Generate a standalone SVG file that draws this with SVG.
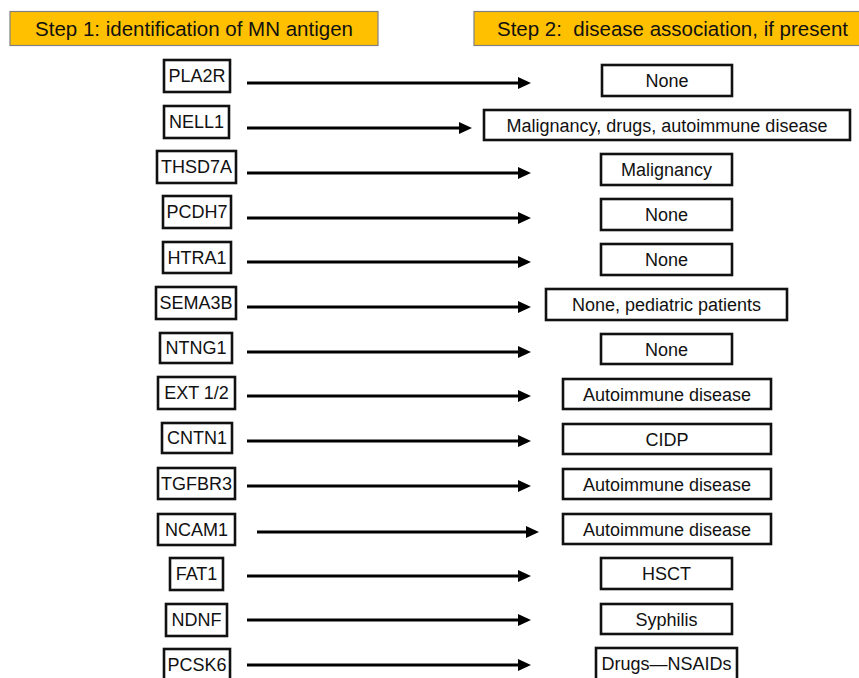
<svg xmlns="http://www.w3.org/2000/svg" width="859" height="678" viewBox="0 0 859 678">
<style>
.hdr{fill:#FFC000;stroke:#808080;stroke-width:1.2}
.ht{font-family:"Liberation Sans",Arial,sans-serif;font-size:20.5px;fill:#111;white-space:pre}
.box{fill:#fff;stroke:#111;stroke-width:2.6}
.t{font-family:"Liberation Sans",Arial,sans-serif;font-size:18px;fill:#111;text-anchor:middle}
.ar{stroke:#000;stroke-width:3.2;fill:none;marker-end:url(#ah)}
</style>
<defs>
<marker id="ah" markerUnits="userSpaceOnUse" markerWidth="14" markerHeight="12" refX="2" refY="6" orient="auto">
<path d="M0,0 L13,6 L0,12 z" fill="#000"/>
</marker>
</defs>
<rect width="859" height="678" fill="#fff"/>
<g id="header1"><rect class="hdr" x="10" y="11.5" width="368" height="34"/><text class="ht" x="194" y="35.5" text-anchor="middle">Step 1: identification of MN antigen</text></g>
<g id="header2"><rect class="hdr" x="474" y="11.5" width="390" height="34"/><text class="ht" x="497" y="35.5">Step 2:  disease association, if present</text></g>

<g id="antigens">
<g id="n-pla2r"><rect class="box" x="164" y="60" width="66" height="32"/><text class="t" x="197" y="82">PLA2R</text></g>
<g id="n-nell1"><rect class="box" x="164" y="106" width="65" height="32"/><text class="t" x="196.5" y="128">NELL1</text></g>
<g id="n-thsd7a"><rect class="box" x="157" y="151" width="79" height="32"/><text class="t" x="196.5" y="173">THSD7A</text></g>
<g id="n-pcdh7"><rect class="box" x="163" y="196" width="68" height="32"/><text class="t" x="197" y="218">PCDH7</text></g>
<g id="n-htra1"><rect class="box" x="163" y="242" width="68" height="31"/><text class="t" x="197" y="263.5">HTRA1</text></g>
<g id="n-sema3b"><rect class="box" x="156" y="287" width="80" height="32"/><text class="t" x="196" y="309">SEMA3B</text></g>
<g id="n-ntng1"><rect class="box" x="160" y="333" width="72" height="30"/><text class="t" x="196" y="354">NTNG1</text></g>
<g id="n-ext"><rect class="box" x="158" y="377" width="77" height="32"/><text class="t" x="196.5" y="399">EXT 1/2</text></g>
<g id="n-cntn1"><rect class="box" x="162" y="423" width="70" height="30"/><text class="t" x="197" y="444">CNTN1</text></g>
<g id="n-tgfbr3"><rect class="box" x="158" y="468" width="77" height="31"/><text class="t" x="196.5" y="489.5">TGFBR3</text></g>
<g id="n-ncam1"><rect class="box" x="158" y="514" width="77" height="31"/><text class="t" x="196.5" y="535.5">NCAM1</text></g>
<g id="n-fat1"><rect class="box" x="170" y="558" width="53" height="32"/><text class="t" x="196.5" y="580">FAT1</text></g>
<g id="n-ndnf"><rect class="box" x="166" y="604" width="61" height="32"/><text class="t" x="196.5" y="626">NDNF</text></g>
<g id="n-pcsk6"><rect class="box" x="164" y="649" width="66" height="34"/><text class="t" x="197" y="671">PCSK6</text></g>
</g>

<g id="connectors">
<line class="ar" x1="247" y1="83" x2="520" y2="83"/>
<line class="ar" x1="247" y1="128" x2="461" y2="128"/>
<line class="ar" x1="247" y1="173" x2="520" y2="173"/>
<line class="ar" x1="247" y1="218" x2="520" y2="218"/>
<line class="ar" x1="247" y1="262" x2="520" y2="262"/>
<line class="ar" x1="247" y1="307" x2="520" y2="307"/>
<line class="ar" x1="247" y1="352" x2="520" y2="352"/>
<line class="ar" x1="247" y1="396" x2="520" y2="396"/>
<line class="ar" x1="247" y1="441" x2="520" y2="441"/>
<line class="ar" x1="247" y1="486" x2="520" y2="486"/>
<line class="ar" x1="257" y1="532" x2="528" y2="532"/>
<line class="ar" x1="247" y1="576" x2="520" y2="576"/>
<line class="ar" x1="247" y1="620" x2="520" y2="620"/>
<line class="ar" x1="247" y1="665" x2="520" y2="665"/>
</g>

<g id="diseases">
<g id="d-1"><rect class="box" x="602" y="65" width="130" height="31"/><text class="t" x="667" y="87">None</text></g>
<g id="d-2"><rect class="box" x="484" y="110" width="366" height="30"/><text class="t" x="667" y="131.5">Malignancy, drugs, autoimmune disease</text></g>
<g id="d-3"><rect class="box" x="601" y="154" width="131" height="31"/><text class="t" x="666.5" y="176">Malignancy</text></g>
<g id="d-4"><rect class="box" x="601" y="199" width="131" height="31"/><text class="t" x="666.5" y="221">None</text></g>
<g id="d-5"><rect class="box" x="601" y="244" width="131" height="31"/><text class="t" x="666.5" y="266">None</text></g>
<g id="d-6"><rect class="box" x="546" y="289" width="241" height="31"/><text class="t" x="666.5" y="311">None, pediatric patients</text></g>
<g id="d-7"><rect class="box" x="601" y="334" width="131" height="30"/><text class="t" x="666.5" y="355.5">None</text></g>
<g id="d-8"><rect class="box" x="563" y="379" width="208" height="30"/><text class="t" x="667" y="400.5">Autoimmune disease</text></g>
<g id="d-9"><rect class="box" x="563" y="424" width="208" height="30"/><text class="t" x="667" y="445.5">CIDP</text></g>
<g id="d-10"><rect class="box" x="563" y="469" width="208" height="30"/><text class="t" x="667" y="490.5">Autoimmune disease</text></g>
<g id="d-11"><rect class="box" x="563" y="514" width="208" height="30"/><text class="t" x="667" y="535.5">Autoimmune disease</text></g>
<g id="d-12"><rect class="box" x="601" y="558" width="131" height="31"/><text class="t" x="666.5" y="580">HSCT</text></g>
<g id="d-13"><rect class="box" x="601" y="604" width="131" height="30"/><text class="t" x="666.5" y="625.5">Syphilis</text></g>
<g id="d-14"><rect class="box" x="596" y="648" width="141" height="34"/><text class="t" x="666.5" y="670">Drugs—NSAIDs</text></g>
</g>
</svg>
